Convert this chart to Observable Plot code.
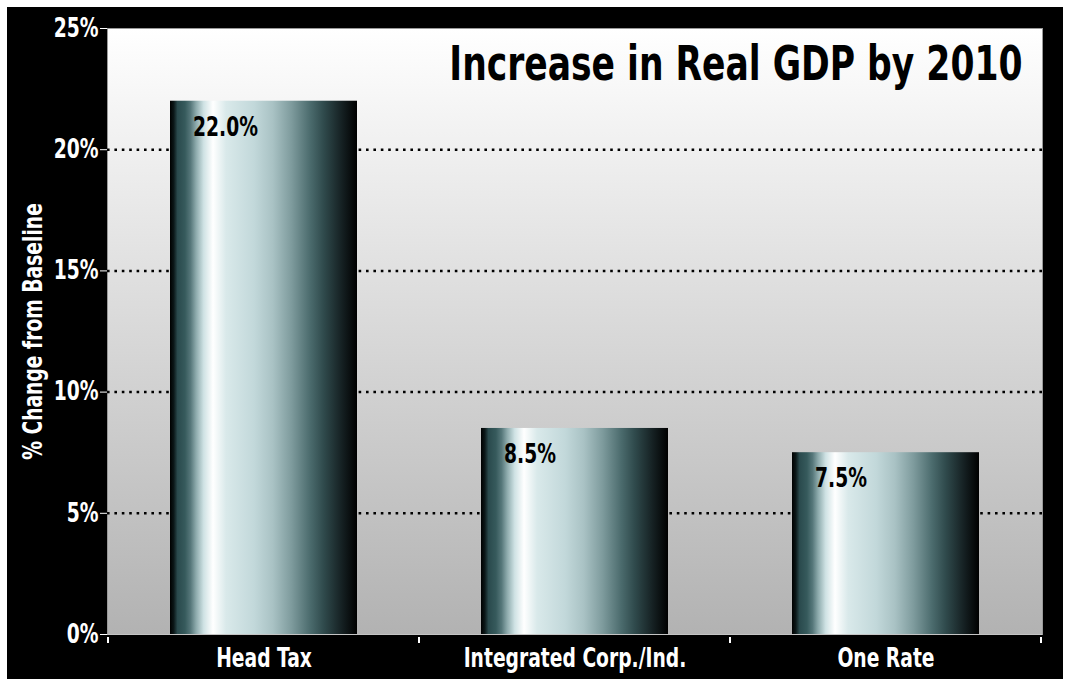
<!DOCTYPE html>
<html><head><meta charset="utf-8">
<script src="https://cdn.jsdelivr.net/npm/d3@7"></script>
<script src="https://cdn.jsdelivr.net/npm/@observablehq/plot@0.6"></script>
<style>
html,body{margin:0;padding:0;background:#fff;}
#chart{position:absolute;left:7px;top:7px;}
</style></head><body><div id="chart"></div>
<script>
const categories = ["Head Tax", "Integrated Corp./Ind.", "One Rate"];
const values = [22.0, 8.5, 7.5];
const valueLabels = ["22.0%", "8.5%", "7.5%"];
const yTicks = [0, 5, 10, 15, 20, 25];
const gridValues = [5, 10, 15, 20];
const title = "Increase in Real GDP by 2010";
const yLabel = "% Change from Baseline";

const data = categories.map((c, i) => ({category: c, value: values[i], label: valueLabels[i]}));

const FONT = "'Liberation Sans Narrow','Arial Narrow','DejaVu Sans Condensed',sans-serif";
const SQUEEZE = 0.8; // horizontal condensing of all text, to mimic a condensed face

const barStops = [
  [0, "#000000"], [0.02, "#0b1718"], [0.04, "#2a4a4d"], [0.08, "#365a5c"], [0.11, "#56777a"],
  [0.14, "#8eabad"], [0.18, "#cfe2e4"], [0.23, "#ffffff"], [0.30, "#d9e9ea"], [0.45, "#c2d8da"],
  [0.55, "#a9c2c4"], [0.65, "#7e9b9d"], [0.75, "#4b6b6d"], [0.82, "#304b4d"], [0.92, "#152022"], [1, "#000000"]
];

function defsMark() {
  const defs = d3.create("svg:defs");
  const bg = defs.append("linearGradient").attr("id", "bgGrad").attr("x1", 0).attr("y1", 0).attr("x2", 0).attr("y2", 1);
  bg.append("stop").attr("offset", "0%").attr("stop-color", "#ffffff");
  bg.append("stop").attr("offset", "100%").attr("stop-color", "#b2b2b2");
  const bar = defs.append("linearGradient").attr("id", "barGrad").attr("x1", 0).attr("y1", 0).attr("x2", 1).attr("y2", 0);
  for (const [o, c] of barStops) bar.append("stop").attr("offset", o).attr("stop-color", c);
  return defs.node();
}

function bandTicks(index, scales, values, dimensions) {
  const x = scales.x;
  const step = x.step(), bw = x.bandwidth();
  const bounds = categories.map(c => x(c) - (step - bw) / 2);
  bounds.push(x(categories[categories.length - 1]) + bw + (step - bw) / 2);
  const y0 = dimensions.height - dimensions.marginBottom;
  const g = d3.create("svg:g").attr("stroke", "#fff").attr("stroke-width", 2);
  g.selectAll("line").data(bounds).join("line")
    .attr("x1", d => d).attr("x2", d => d)
    .attr("y1", y0 + 3).attr("y2", y0 + 9);
  return g.node();
}

const plot = Plot.plot({
  width: 1056,
  height: 672,
  marginLeft: 100,
  marginRight: 21,
  marginTop: 21,
  marginBottom: 45,
  style: {background: "#000", color: "#fff", fontFamily: FONT, fontWeight: "bold", fontSize: "26px", overflow: "visible"},
  x: {domain: categories, paddingInner: 0.4, paddingOuter: 0.2, label: null, tickSize: 0, tickPadding: 14},
  y: {domain: [0, 25], ticks: yTicks, tickFormat: d => d + "%", tickSize: 7, tickPadding: 2,
      label: yLabel, labelAnchor: "center", labelOffset: 84, labelArrow: false},
  marks: [
    defsMark,
    Plot.frame({fill: "url(#bgGrad)", stroke: "#9a9a9a"}),
    Plot.ruleY(gridValues, {stroke: "#000", strokeWidth: 2.5, strokeDasharray: "2.6,4.8"}),
    Plot.barY(data, {x: "category", y: "value", fill: "url(#barGrad)"}),
    Plot.ruleY([0], {stroke: "#c4c4c4"}),
    Plot.text(data, {x: "category", y: "value", text: "label", textAnchor: "start", lineAnchor: "top",
      dx: -71, dy: 16, fill: "#000", fontSize: 26, fontWeight: "bold"}),
    Plot.text([title], {frameAnchor: "top-right", text: d => d, textAnchor: "end", lineAnchor: "top",
      dx: -20, dy: 17, fontSize: 48, fontWeight: "bold", fill: "#000"}),
    bandTicks
  ]
});
document.getElementById("chart").appendChild(plot);

// condense every text horizontally
plot.querySelectorAll("text").forEach(t => {
  const w = t.getComputedTextLength();
  if (w > 0) {
    t.setAttribute("textLength", w * SQUEEZE);
    t.setAttribute("lengthAdjust", "spacingAndGlyphs");
  }
});
</script></body></html>
